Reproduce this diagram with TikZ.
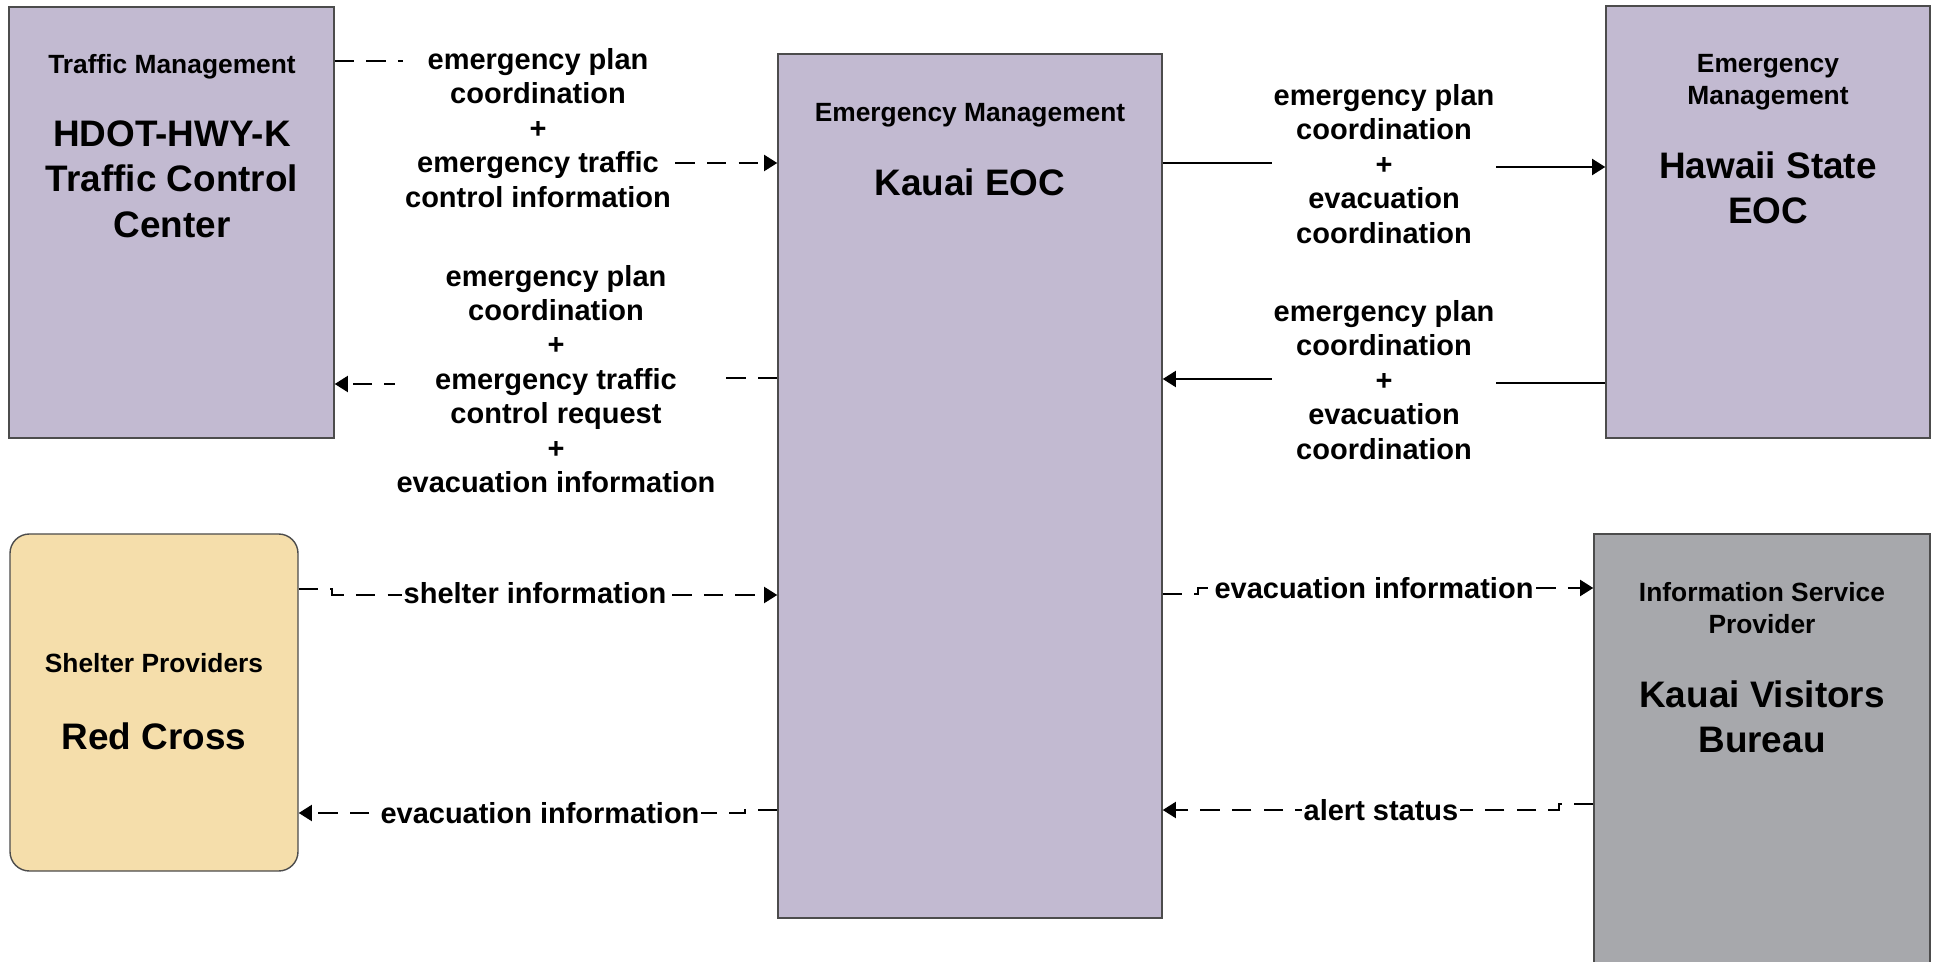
\documentclass[tikz,border=0pt]{standalone}
\usepackage{fontspec}
\setmainfont{Liberation Sans}
\usetikzlibrary{arrows.meta,fit}
\definecolor{sysfill}{RGB}{194,186,209}
\definecolor{shelterfill}{RGB}{245,222,171}
\definecolor{ispfill}{RGB}{167,168,172}
\tikzset{
  sysbox/.style={draw=black!70, line width=0.8pt, inner sep=0pt},
  boxtitle/.style={align=center, font=\fontsize{15}{18.2}\selectfont\bfseries, inner sep=0pt},
  boxname/.style={align=center, font=\fontsize{21}{25.8}\selectfont\bfseries, inner sep=0pt},
  lbl/.style={fill=white, align=center, font=\fontsize{16.5}{19.6}\selectfont\bfseries, inner sep=1pt},
  flow/.style={line width=1.5pt, -{Triangle[length=7.5pt,width=9pt]}},
  dflow/.style={flow, dash pattern=on 11pt off 7pt},
}
\begin{document}
\begin{tikzpicture}[x=0.02cm, y=-0.02cm]
\useasboundingbox (0,0) rectangle (1937,962);

% Draw boxes
\node[sysbox, fill=sysfill, fit={(9,7) (334,438)}] (tmc) {};
\node[sysbox, fill=sysfill, fit={(778,54) (1162,918)}] (eoc) {};
\node[sysbox, fill=sysfill, fit={(1606,6) (1930,438)}] (hsc) {};
\node[sysbox, fill=shelterfill, rounded corners=11pt, fit={(10,534) (298,871)}] (shp) {};
\node[sysbox, fill=ispfill, fit={(1594,534) (1930,990)}] (isp) {};

% Box texts
\node[boxtitle] (tmc-t) at (172,67) {Traffic Management};
\node[boxname] (tmc-n) at (172,179) {HDOT-HWY-K\\Traffic Control\\Center};
\node[boxtitle] (eoc-t) at (970,115) {Emergency Management};
\node[boxname] (eoc-n) at (970,182) {Kauai EOC};
\node[boxtitle] (hsc-t) at (1768,82) {Emergency\\Management};
\node[boxname] (hsc-n) at (1768,188) {Hawaii State\\EOC};
\node[boxtitle] (shp-t) at (154,663) {Shelter Providers};
\node[boxname] (shp-n) at (154,736) {Red Cross};
\node[boxtitle] (isp-t) at (1762,608) {Information Service\\Provider};
\node[boxname] (isp-n) at (1762,717) {Kauai Visitors\\Bureau};

% Flows between traffic center and county EOC
\draw[dflow] (tmc.east |- 0,61) -| (538,128) |- (eoc.west |- 0,163)
  node[lbl] (f1) at (538,128) {emergency plan\\coordination\\+\\emergency traffic\\control information};
\draw[dflow] (eoc.west |- 0,378) -| (556,379) |- (tmc.east |- 0,384)
  node[lbl] (f2) at (556,379) {emergency plan\\coordination\\+\\emergency traffic\\control request\\+\\evacuation information};

% Flows between county and state EOC
\draw[flow] (eoc.east |- 0,163) -| (1384,164) |- (hsc.west |- 0,167)
  node[lbl] (f3) at (1384,164) {emergency plan\\coordination\\+\\evacuation\\coordination};
\draw[flow] (hsc.west |- 0,383) -| (1384,380) |- (eoc.east |- 0,379)
  node[lbl] (f4) at (1384,380) {emergency plan\\coordination\\+\\evacuation\\coordination};

% Shelter and visitor flows
\draw[dflow] (shp.east |- 0,589) -| (332,595) -- (eoc.west |- 0,595)
  node[lbl] (f5) at (535,593) {shelter information};
\draw[dflow] (eoc.west |- 0,810) -| (745,813) -- (shp.east |- 0,813)
  node[lbl] (f6) at (540,813) {evacuation information};
\draw[dflow] (eoc.east |- 0,594) -| (1198,588) -- (isp.west |- 0,588)
  node[lbl] (f7) at (1374,588) {evacuation information};
\draw[dflow] (isp.west |- 0,804) -| (1559,810) -- (eoc.east |- 0,810)
  node[lbl] (f8) at (1381,810) {alert status};
\end{tikzpicture}
\end{document}
